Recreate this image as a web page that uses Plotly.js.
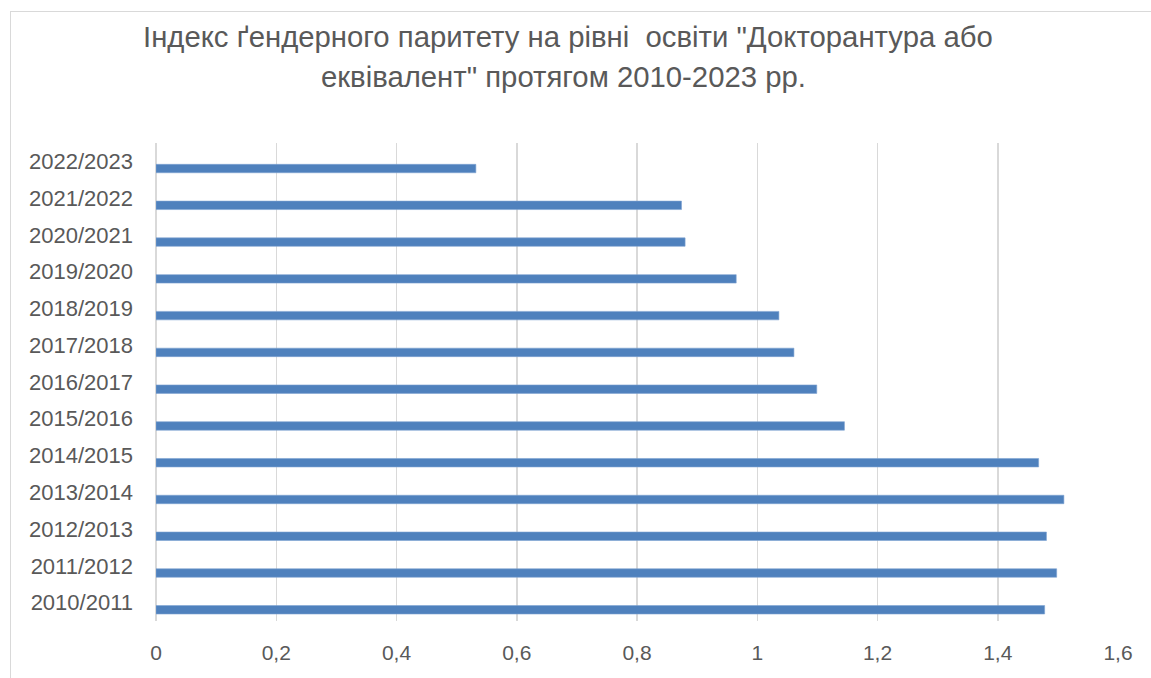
<!DOCTYPE html>
<html>
<head>
<meta charset="utf-8">
<script src="https://cdn.plot.ly/plotly-3.0.1.min.js"></script>
<style>
  html, body { margin: 0; padding: 0; overflow: hidden; background: #ffffff; }
  #chart { position: absolute; left: 0; top: 0; width: 1151px; height: 678px; }
  #frame { position: absolute; left: 10px; top: 11px; width: 1200px; height: 700px;
           border: 1px solid #d9d9d9; pointer-events: none; }
</style>
</head>
<body>
<div id="chart"></div>
<div id="frame"></div>
<script>
const categories = ["2010/2011", "2011/2012", "2012/2013", "2013/2014", "2014/2015",
                    "2015/2016", "2016/2017", "2017/2018", "2018/2019", "2019/2020",
                    "2020/2021", "2021/2022", "2022/2023"];
const values = [1.478, 1.498, 1.481, 1.510, 1.468,
                1.145, 1.099, 1.061, 1.036, 0.965,
                0.880, 0.874, 0.532];
const xTickValues = [0, 0.2, 0.4, 0.6, 0.8, 1, 1.2, 1.4, 1.6];
const xTickLabels = ["0", "0,2", "0,4", "0,6", "0,8", "1", "1,2", "1,4", "1,6"];
const titleLine1 = "Індекс ґендерного паритету на рівні  освіти \"Докторантура або";
const titleLine2 = "еквівалент\" протягом 2010-2023 рр.";

const textColor = "#595959";
const fontFamily = "'Liberation Sans', Arial, sans-serif";

const trace = {
  type: "bar",
  orientation: "h",
  y: categories,
  x: values,
  marker: { color: "#4f81bd", line: { color: "#7ea3d1", width: 0.6 } },
  width: 0.23,
  offset: -0.31,
  hoverinfo: "x+y"
};

const titleFont = { family: fontFamily, size: 29.3, color: textColor };

const layout = {
  width: 1151,
  height: 678,
  paper_bgcolor: "#ffffff",
  plot_bgcolor: "#ffffff",
  margin: { l: 156, r: 33, t: 143, b: 57 },
  showlegend: false,
  annotations: [
    { text: titleLine1, xref: "paper", yref: "paper", x: 0.4278, y: 1.222,
      xanchor: "center", yanchor: "middle", showarrow: false, font: titleFont },
    { text: titleLine2, xref: "paper", yref: "paper", x: 0.4241, y: 1.14,
      xanchor: "center", yanchor: "middle", showarrow: false, font: titleFont }
  ],
  xaxis: {
    range: [0, 1.6],
    tickvals: xTickValues,
    ticktext: xTickLabels,
    showgrid: true,
    gridcolor: "#d9d9d9",
    gridwidth: 1.5,
    zeroline: true,
    zerolinecolor: "#d9d9d9",
    zerolinewidth: 1.5,
    showline: false,
    ticks: "",
    ticklabelstandoff: 17,
    tickfont: { family: fontFamily, size: 21, color: textColor },
    fixedrange: true
  },
  yaxis: {
    type: "category",
    categoryorder: "array",
    categoryarray: categories,
    showgrid: false,
    zeroline: false,
    showline: false,
    ticks: "",
    ticklabelstandoff: 22,
    tickfont: { family: fontFamily, size: 22, color: textColor },
    fixedrange: true
  }
};

Plotly.newPlot("chart", [trace], layout, { displayModeBar: false, staticPlot: true });
</script>
</body>
</html>
